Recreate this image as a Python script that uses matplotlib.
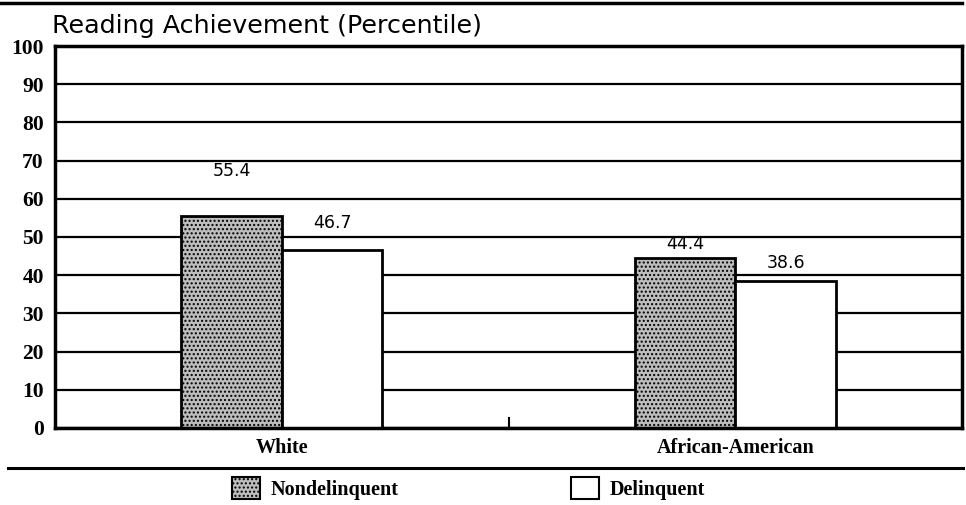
import matplotlib.pyplot as plt
from matplotlib.patches import Patch
from matplotlib.lines import Line2D
import numpy as np

groups = ["White", "African-American"]
series = ["Nondelinquent", "Delinquent"]
nondelinquent = [55.4, 44.4]
delinquent = [46.7, 38.6]
yticks = [0, 10, 20, 30, 40, 50, 60, 70, 80, 90, 100]
# label lift above each bar (the original places them unevenly)
lift_nondel = [9.5, 1.4]
lift_del = [4.5, 2.2]

fig = plt.figure(figsize=(9.66, 5.05), dpi=100)
ax = fig.add_axes([0.0569, 0.1525, 0.9390, 0.7564])

x = np.arange(len(groups))
w = 0.222
ax.set_axisbelow(True)
ax.yaxis.grid(True, color='black', linewidth=1.6)

b1 = ax.bar(x - w / 2, nondelinquent, w, facecolor='#bdbdbd', edgecolor='black',
            linewidth=2, hatch='....', label=series[0])
b2 = ax.bar(x + w / 2, delinquent, w, facecolor='white', edgecolor='black',
            linewidth=2, label=series[1])

for bars, vals, lifts in ((b1, nondelinquent, lift_nondel), (b2, delinquent, lift_del)):
    for r, v, l in zip(bars, vals, lifts):
        ax.text(r.get_x() + r.get_width() / 2, v + l, f"{v}", ha='center', va='bottom',
                fontsize=12.5, family='DejaVu Sans')

ax.set_xlim(-0.5, 1.5)
ax.set_ylim(0, 100)
ax.set_yticks(yticks)
ax.set_yticklabels([str(t) for t in yticks], fontsize=15.5, fontweight='bold',
                   family='Liberation Serif')
ax.tick_params(axis='y', length=0, pad=8)
ax.set_xticks(x)
ax.set_xticklabels(groups, fontsize=14.5, fontweight='bold', family='Liberation Serif')
ax.tick_params(axis='x', length=0, pad=7)
ax.axvline(0.5, ymin=0, ymax=0.025, color='black', linewidth=1.5)
for s in ax.spines.values():
    s.set_linewidth(2.5)

fig.text(0.054, 0.925, "Reading Achievement (Percentile)", fontsize=18.3,
         family='DejaVu Sans', ha='left', va='bottom')

fig.add_artist(Line2D([0.0, 0.996], [0.995, 0.995], color='black', linewidth=2.5))
fig.add_artist(Line2D([0.008, 0.997], [0.073, 0.073], color='black', linewidth=2.2))

handles = [Patch(facecolor='#bdbdbd', edgecolor='black', hatch='....', linewidth=1.5),
           Patch(facecolor='white', edgecolor='black', linewidth=1.5)]
fig.legend(handles, series, loc='center left', bbox_to_anchor=(0.240, 0.032), ncol=2,
           frameon=False, handlelength=1.4, handleheight=1.3, handletextpad=0.5,
           columnspacing=8.6, prop={'family': 'Liberation Serif', 'weight': 'bold', 'size': 14.5},
           borderpad=0, borderaxespad=0)

fig.savefig("out.png", dpi=100)
